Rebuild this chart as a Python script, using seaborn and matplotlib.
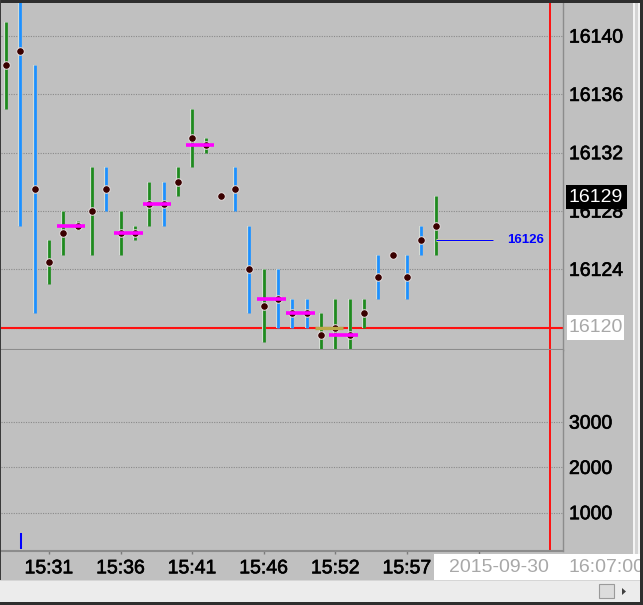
import matplotlib
matplotlib.use('Agg')
import matplotlib.pyplot as plt
import matplotlib.patheffects as pe
from matplotlib.patches import Rectangle, Polygon
import pandas as pd
import seaborn as sns

# ---------------- data ----------------
bar_index = list(range(31))
bar_high = [16141, 16144, 16138, 16126, 16128, 16127.3, 16131, 16131, 16128, 16127,
            16130, 16130, 16131, 16135, 16133, 16129, 16131, 16127, 16124, 16124,
            16122, 16122, 16121, 16122, 16122, 16122, 16125, 16125, 16125, 16127, 16129]
bar_low = [16135, 16127, 16121, 16123, 16125, 16126.7, 16125, 16128, 16125, 16126,
           16127, 16127, 16129, 16131, 16132, 16129, 16128, 16121, 16119, 16120,
           16120, 16120, 16117, 16117, 16117, 16120, 16122, 16125, 16122, 16125, 16125]
bar_mark = [16138, 16139, 16129.5, 16124.5, 16126.5, 16127, 16128, 16129.5, 16126.5, 16126.5,
            16128.5, 16128.5, 16130, 16133, 16132.5, 16129, 16129.5, 16124, 16121.5, 16122,
            16121, 16121, 16119.5, 16120, 16119.5, 16121, 16123.5, 16125, 16123.5, 16126, 16127]
bar_side = ['up', 'down', 'down', 'up', 'up', 'up', 'up', 'down', 'up', 'up',
            'up', 'down', 'up', 'up', 'up', 'up', 'down', 'down', 'up', 'down',
            'down', 'down', 'up', 'up', 'up', 'up', 'down', 'up', 'down', 'down', 'up']

mag_start = [4, 8, 10, 13, 18, 20, 23]
mag_price = [16127, 16126.5, 16128.5, 16132.5, 16122, 16121, 16119.5]
olive_start = [22]
olive_price = [16120]

vol_index = [1]
vol_value = [575]

last_price = 16126
last_bar = 30
current_price = 16129
cross_price = 16120
cross_bar = 38
cross_time = ['2015-09-30', '16:07:00']

price_ticks = [16120, 16124, 16128, 16132, 16136, 16140]
price_tick_labels = ['', '16124', '16128', '16132', '16136', '16140']
vol_ticks = [1000, 2000, 3000]
vol_tick_labels = ['1000', '2000', '3000']
time_tick_pos = [3, 8, 13, 18, 23, 28, 33]
time_tick_labels = ['15:31', '15:36', '15:41', '15:46', '15:52', '15:57', '']

# ---------------- style ----------------
sns.set_theme(style='white')
plt.rcParams['font.family'] = ['Liberation Sans', 'DejaVu Sans']
BG = '#c0c0c0'
GREEN = '#1f8a1f'
BLUE = '#1e90ff'
MAG = '#ff00ff'
GRID = '#8a8a8a'
FRAME = '#8c8c8c'
BOLDEN = [pe.withStroke(linewidth=0.45, foreground='black')]

W, H = 643, 605
fig = plt.figure(figsize=(W / 100, H / 100), dpi=100, facecolor=BG)


def fxy(x, y):
    return x / W, 1 - y / H


def rect(x0, y0, x1, y1, color, ec='none', lw=0, z=5):
    r = Rectangle((x0 / W, 1 - y1 / H), (x1 - x0) / W, (y1 - y0) / H,
                  transform=fig.transFigure, facecolor=color, edgecolor=ec,
                  linewidth=lw, zorder=z)
    fig.add_artist(r)


ax_p = fig.add_axes([1 / W, 1 - 350 / H, 562 / W, 347 / H])
ax_v = fig.add_axes([1 / W, 1 - 551 / H, 562 / W, 201 / H], sharex=ax_p)

for ax in (ax_p, ax_v):
    ax.set_facecolor(BG)
    for s in ('top', 'left'):
        ax.spines[s].set_visible(False)
    ax.spines['right'].set_color(FRAME)
    ax.spines['right'].set_linewidth(1.0)
    ax.spines['bottom'].set_color(FRAME)
    ax.spines['bottom'].set_linewidth(1.5)
    ax.yaxis.tick_right()
    ax.tick_params(axis='y', length=0, pad=4.3, labelsize=14, labelcolor='black')

ax_p.set_xlim(-0.349, 38.896)
ax_p.set_ylim(16118.47, 16142.27)
ax_v.set_ylim(154.5, 4592)

# grids
ax_p.set_yticks(price_ticks)
ax_p.set_yticklabels(price_tick_labels)
ax_v.set_yticks(vol_ticks)
ax_v.set_yticklabels(vol_tick_labels)
for ax in (ax_p, ax_v):
    ax.grid(axis='y', color=GRID, linewidth=0.8, linestyle=(0, (1, 1.2)))
    ax.grid(axis='x', visible=False)

ax_p.tick_params(axis='x', which='both', bottom=False, labelbottom=False)
ax_v.set_xticks(time_tick_pos)
ax_v.set_xticklabels(time_tick_labels)
ax_v.tick_params(axis='x', direction='out', length=2.5, width=1, color='#7a7a7a',
                 pad=4.2, labelsize=14, labelcolor='black', bottom=True)

for lab in ax_p.get_yticklabels() + ax_v.get_yticklabels() + ax_v.get_xticklabels():
    lab.set_path_effects(BOLDEN)

# crosshair (red)
ax_p.axhline(cross_price, color='#ff1010', linewidth=1.5, zorder=1.5)
for ax in (ax_p, ax_v):
    ax.axvline(cross_bar, color='#ff1010', linewidth=1.4, zorder=1.5)

# price bars
df = pd.DataFrame({'i': bar_index, 'high': bar_high, 'low': bar_low,
                   'mark': bar_mark, 'side': bar_side})
for side, col in (('up', GREEN), ('down', BLUE)):
    sub = df[(df.side == side) & (df.high > df.low)]
    ax_p.vlines(sub.i, sub.low, sub.high, colors=col, linewidth=2.0, zorder=2,
                capstyle='butt',
                path_effects=[pe.Stroke(linewidth=2.9, foreground='#d4dcd4'), pe.Normal()])

sns.scatterplot(data=df, x='i', y='mark', ax=ax_p, color='#3a0000', s=30,
                edgecolor='#e4e0e0', linewidth=0.7, zorder=3, legend=False)

# magenta / olive segments
for st, pr in zip(mag_start, mag_price):
    ax_p.hlines(pr, st - 0.45, st + 1.55, colors=MAG, linewidth=2.6, zorder=4)
for st, pr in zip(olive_start, olive_price):
    ax_p.hlines(pr, st - 0.45, st + 1.55, colors='#bba84a', linewidth=2.4, zorder=4)

# last price line and label
ax_p.hlines(last_price, last_bar, last_bar + 4, colors='#0000ff', linewidth=0.9, zorder=4,
            path_effects=[pe.Stroke(linewidth=2.2, foreground='#e8e4a8'), pe.Normal()])
ax_p.text(last_bar + 5, last_price, str(last_price), color='#0000ff', fontsize=9.5,
          fontweight='bold', va='center', ha='left', zorder=5)

# volume
ax_v.bar(vol_index, [v - 200 for v in vol_value], bottom=200, width=0.18,
         color='#0000ff', edgecolor='#e6e6b4', linewidth=0.5, zorder=3)

ax_p.set_xlabel('')
ax_p.set_ylabel('')
ax_v.set_xlabel('')
ax_v.set_ylabel('')

# ---------------- frame decorations ----------------
rect(0, 0, 643, 3, '#2e2e2e')
rect(0, 0, 1.2, 605, '#3a3a3a')
rect(633, 3, 634.5, 580, '#f4f4f4')
rect(634.5, 3, 638, 580, '#d4d4d4')
rect(638, 3, 639.5, 580, '#f4f4f4')
rect(640, 0, 643, 605, '#2e2e2e')
rect(0, 580, 640, 602, '#ececec')
rect(0, 579.5, 640, 580.5, '#d6d6d6')
rect(0, 602, 643, 605, '#2e2e2e')
rect(599, 584, 614, 598, '#dcdcdc', ec='#9a9a9a', lw=0.8)
fig.add_artist(Polygon([fxy(622, 588), fxy(622, 595), fxy(626, 591.5)], closed=True,
                       transform=fig.transFigure, facecolor='#404040', edgecolor='none', zorder=6))

# current price box
rect(566, 185, 627, 209, 'black', z=6)
fig.text(*fxy(569, 197.5), str(current_price), color='white', fontsize=14,
         va='center', ha='left', zorder=7)
# crosshair price box
rect(567, 315, 624, 340, 'white', z=6)
fig.text(*fxy(569, 328), str(cross_price), color='#a8a8a8', fontsize=14,
         va='center', ha='left', zorder=7)
# crosshair time box
rect(434, 554, 643, 580, 'white', z=6)
fig.text(*fxy(449, 568), cross_time[0], color='#a8a8a8', fontsize=14,
         va='center', ha='left', zorder=7)
fig.text(*fxy(568, 568), cross_time[1], color='#a8a8a8', fontsize=14,
         va='center', ha='left', zorder=7, clip_on=True)
rect(640, 554, 643, 580, '#2e2e2e', z=8)

fig.savefig('out.png', dpi=100, facecolor=BG)
